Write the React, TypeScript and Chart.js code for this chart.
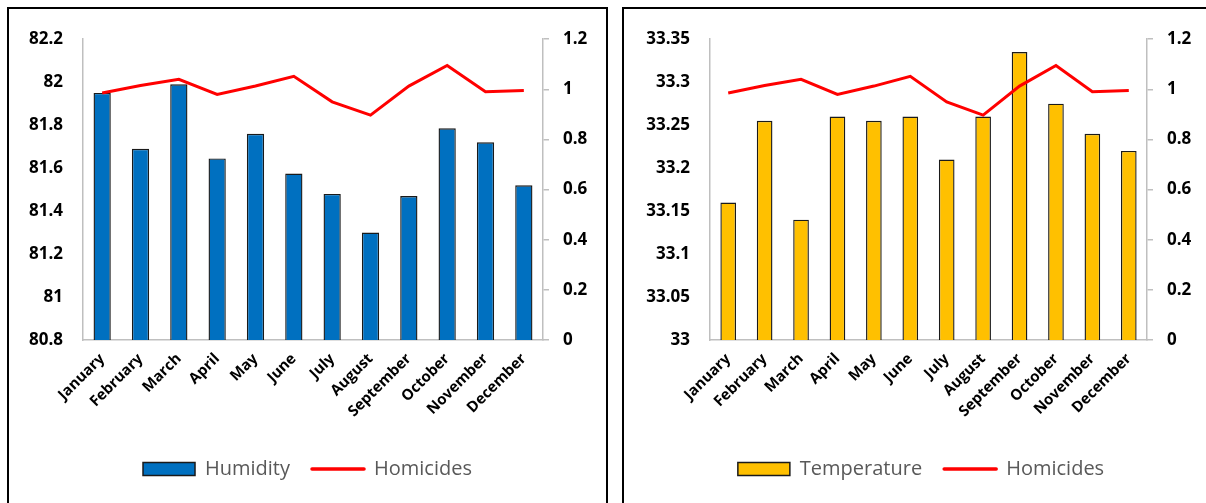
import React, { useEffect, useRef } from "react";
import { Chart, registerables } from "chart.js";

Chart.register(...registerables);

const months = [
  "January", "February", "March", "April", "May", "June",
  "July", "August", "September", "October", "November", "December",
];
const humidity = [81.95, 81.69, 81.99, 81.645, 81.76, 81.575, 81.48, 81.3, 81.47, 81.785, 81.72, 81.52];
const temperature = [33.16, 33.255, 33.14, 33.26, 33.255, 33.26, 33.21, 33.26, 33.335, 33.275, 33.24, 33.22];
const homicides = [0.985, 1.015, 1.04, 0.98, 1.013, 1.052, 0.95, 0.897, 1.013, 1.095, 0.99, 0.995];

const FONT = "'Open Sans', 'Noto Sans', sans-serif";
const AXIS_GRAY = "#BFBFBF";

const fmt = (v: any) => String(Number(Number(v).toFixed(2)));

interface PanelProps {
  barLabel: string;
  barValues: number[];
  barColor: string;
  yMin: number;
  yMax: number;
  yStep: number;
  leftWidth: number;
  rightWidth: number;
  barPct: number;
  width: number;
  height: number;
}

function ChartPanel(p: PanelProps) {
  const ref = useRef<HTMLCanvasElement>(null);
  useEffect(() => {
    if (!ref.current) return;
    const chart = new Chart(ref.current, {
      type: "bar",
      data: {
        labels: months,
        datasets: [
          {
            type: "bar",
            label: p.barLabel,
            data: p.barValues,
            backgroundColor: p.barColor,
            borderColor: "#1a1a1a",
            borderWidth: 1.4,
            barPercentage: p.barPct,
            categoryPercentage: 1,
            yAxisID: "y",
            order: 2,
          } as any,
          {
            type: "line",
            label: "Homicides",
            data: homicides,
            borderColor: "#FF0000",
            backgroundColor: "#FF0000",
            borderWidth: 3,
            pointRadius: 0,
            tension: 0,
            yAxisID: "y1",
            order: 1,
          } as any,
        ],
      },
      options: {
        responsive: false,
        animation: false,
        events: [],
        layout: { padding: { top: 28, bottom: 14, left: 0, right: 0 } },
        plugins: {
          tooltip: { enabled: false },
          legend: {
            position: "bottom",
            labels: {
              usePointStyle: true,
              pointStyleWidth: 52,
              boxHeight: 13,
              padding: 22,
              color: "#595959",
              font: { family: FONT, size: 20 },
              generateLabels: (chart: any) =>
                chart.data.datasets.map((ds: any, i: number) => ({
                  text: ds.label,
                  fillStyle: ds.backgroundColor,
                  strokeStyle: i === 0 ? "#1a1a1a" : "#FF0000",
                  lineWidth: i === 0 ? 1.5 : 3.5,
                  lineCap: "round",
                  pointStyle: i === 0 ? "rect" : "line",
                  datasetIndex: i,
                  hidden: false,
                  fontColor: "#595959",
                })),
            },
          },
        },
        scales: {
          x: {
            grid: { display: false },
            border: { display: true, color: AXIS_GRAY, width: 1.5 },
            ticks: {
              autoSkip: false,
              minRotation: 45,
              maxRotation: 45,
              padding: 2,
              color: "#000",
              font: { family: FONT, size: 15, weight: "bold" },
            },
            afterFit: (s: any) => {
              s.height = 97;
            },
          },
          y: {
            position: "left",
            min: p.yMin,
            max: p.yMax,
            grid: { display: false, drawTicks: false },
            border: { display: true, color: AXIS_GRAY, width: 1.5 },
            ticks: {
              stepSize: p.yStep,
              padding: 20,
              color: "#000",
              callback: fmt,
              font: { family: FONT, size: 17, weight: "bold" },
            },
            afterFit: (s: any) => {
              s.width = p.leftWidth;
            },
          },
          y1: {
            position: "right",
            min: 0,
            max: 1.2,
            grid: {
              display: true,
              drawOnChartArea: false,
              drawTicks: true,
              tickLength: 6,
              color: AXIS_GRAY,
              lineWidth: 1.5,
            },
            border: { display: true, color: AXIS_GRAY, width: 1.5 },
            ticks: {
              stepSize: 0.2,
              padding: 14,
              color: "#000",
              callback: fmt,
              font: { family: FONT, size: 17, weight: "bold" },
            },
            afterFit: (s: any) => {
              s.width = p.rightWidth;
            },
          },
        },
      } as any,
    });
    return () => chart.destroy();
  }, []);
  return (
    <canvas
      ref={ref}
      width={p.width}
      height={p.height}
      style={{ position: "absolute", left: 0, top: 0, width: p.width, height: p.height }}
    />
  );
}

export default function App() {
  return (
    <div
      style={{
        position: "fixed",
        left: 0,
        top: 0,
        width: 1206,
        height: 503,
        overflow: "hidden",
        background: "#fff",
      }}
    >
      <div
        style={{
          position: "absolute",
          left: 7,
          top: 7,
          width: 601,
          height: 520,
          border: "2px solid #000",
          boxSizing: "border-box",
        }}
      >
        <ChartPanel
          barLabel="Humidity"
          barValues={humidity}
          barColor="#0070C0"
          yMin={80.8}
          yMax={82.2}
          yStep={0.2}
          leftWidth={74}
          rightWidth={63}
          barPct={0.45}
          width={597}
          height={494}
        />
      </div>
      <div
        style={{
          position: "absolute",
          left: 622,
          top: 7,
          width: 640,
          height: 520,
          border: "2px solid #000",
          boxSizing: "border-box",
        }}
      >
        <ChartPanel
          barLabel="Temperature"
          barValues={temperature}
          barColor="#FFC000"
          yMin={33}
          yMax={33.35}
          yStep={0.05}
          leftWidth={86}
          rightWidth={71}
          barPct={0.43}
          width={594}
          height={494}
        />
      </div>
    </div>
  );
}
